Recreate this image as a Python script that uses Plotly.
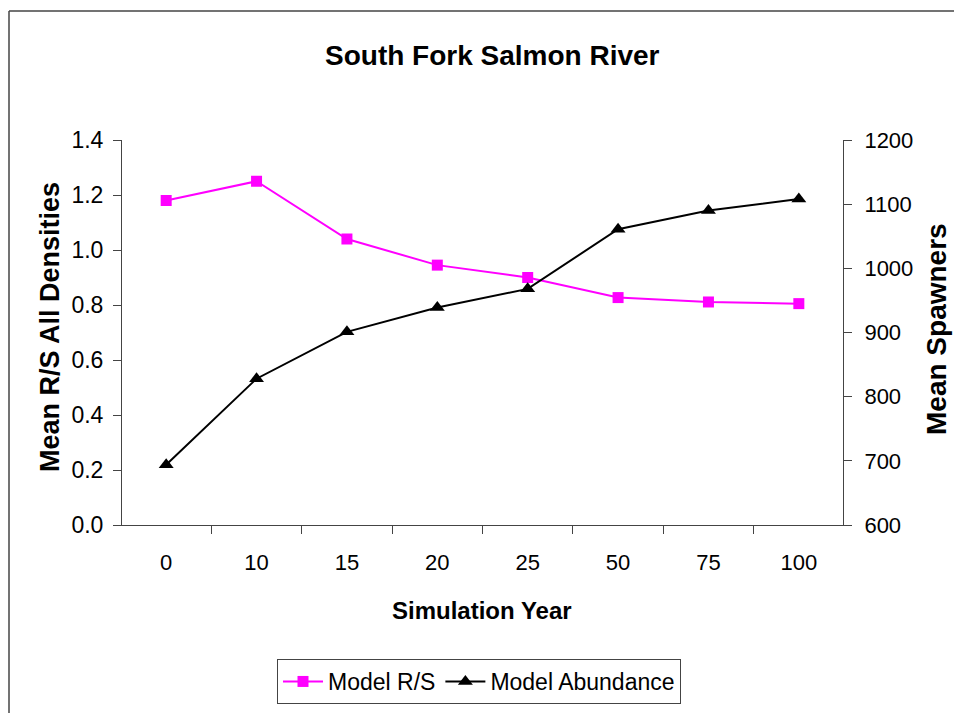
import plotly.graph_objects as go

# Simulation years (categorical axis) and the two model series
years = ["0", "10", "15", "20", "25", "50", "75", "100"]
model_rs = [1.18, 1.25, 1.04, 0.945, 0.90, 0.827, 0.811, 0.805]
model_abundance = [694, 828, 901, 939, 968, 1061, 1090, 1108]

FONT = "Liberation Sans, Arial, sans-serif"
AXIS_COLOR = "#444444"

fig = go.Figure()

fig.add_trace(go.Scatter(
    x=years, y=model_rs, name="Model R/S", mode="lines+markers",
    line=dict(color="#FF00FF", width=2),
    marker=dict(symbol="square", size=11, color="#FF00FF"),
))
fig.add_trace(go.Scatter(
    x=years, y=model_abundance, name="Model Abundance", mode="lines+markers",
    yaxis="y2",
    line=dict(color="#000000", width=2),
    marker=dict(symbol="triangle-up", size=13, color="#000000"),
))

# page has an 8px body margin, so figure coords = screen coords - 8
OFF = 8
W, H = 962 - OFF, 713 - OFF
# plot area on screen: x 122..843, y 140..525
L, T = 122 - OFF, 140 - OFF
R, B = W - (843 - OFF), H - (525 - OFF)
PW, PH = W - L - R, H - T - B


def px(x):
    return (x - OFF - L) / PW


def py(y):
    return (H - B - (y - OFF)) / PH


fig.update_layout(
    width=W, height=H,
    margin=dict(l=L, r=R, t=T, b=B, autoexpand=False),
    paper_bgcolor="white", plot_bgcolor="white",
    font=dict(family=FONT, color="black", size=22),
    showlegend=True,
    legend=dict(
        orientation="h", x=px(479), y=py(659), xanchor="center", yanchor="top",
        bordercolor=AXIS_COLOR, borderwidth=1, font=dict(size=23),
        itemwidth=40,
    ),
    xaxis=dict(
        type="category", showgrid=False, zeroline=False, automargin=False,
        showline=True, linecolor=AXIS_COLOR, linewidth=1,
        ticks="outside", ticklen=8, tickcolor=AXIS_COLOR, tickson="boundaries",
        tickfont=dict(size=22), ticklabelstandoff=18,
    ),
    yaxis=dict(
        range=[0, 1.4], dtick=0.2, tickformat=".1f", showgrid=False, zeroline=False,
        automargin=False,
        showline=True, linecolor=AXIS_COLOR, linewidth=1,
        ticks="outside", ticklen=8, tickcolor=AXIS_COLOR,
        tickfont=dict(size=23), ticklabelstandoff=5,
    ),
    yaxis2=dict(
        range=[600, 1200], dtick=100, overlaying="y", side="right",
        showgrid=False, zeroline=False, automargin=False,
        showline=True, linecolor=AXIS_COLOR, linewidth=1,
        ticks="outside", ticklen=8, tickcolor=AXIS_COLOR,
        tickfont=dict(size=22), ticklabelstandoff=8,
    ),
    annotations=[
        dict(text="<b>South Fork Salmon River</b>", xref="paper", yref="paper",
             x=px(492), y=py(55), xanchor="center", yanchor="middle",
             showarrow=False, font=dict(size=28)),
        dict(text="<b>Simulation Year</b>", xref="paper", yref="paper",
             x=px(482), y=py(610), xanchor="center", yanchor="middle",
             showarrow=False, font=dict(size=24)),
        dict(text="<b>Mean R/S All Densities</b>", xref="paper", yref="paper",
             x=px(50), y=py(327), xanchor="center", yanchor="middle",
             showarrow=False, textangle=-90, font=dict(size=27)),
        dict(text="<b>Mean Spawners</b>", xref="paper", yref="paper",
             x=px(936), y=py(329), xanchor="center", yanchor="middle",
             showarrow=False, textangle=-90, font=dict(size=28)),
    ],
    shapes=[
        # outer chart frame (left and top edges visible)
        dict(type="line", xref="paper", yref="paper",
             x0=px(9), y0=py(11), x1=px(9), y1=py(713),
             line=dict(color=AXIS_COLOR, width=1.5)),
        dict(type="line", xref="paper", yref="paper",
             x0=px(9), y0=py(11), x1=px(962), y1=py(11),
             line=dict(color=AXIS_COLOR, width=1.5)),
    ],
)

fig.write_html("out.html")
